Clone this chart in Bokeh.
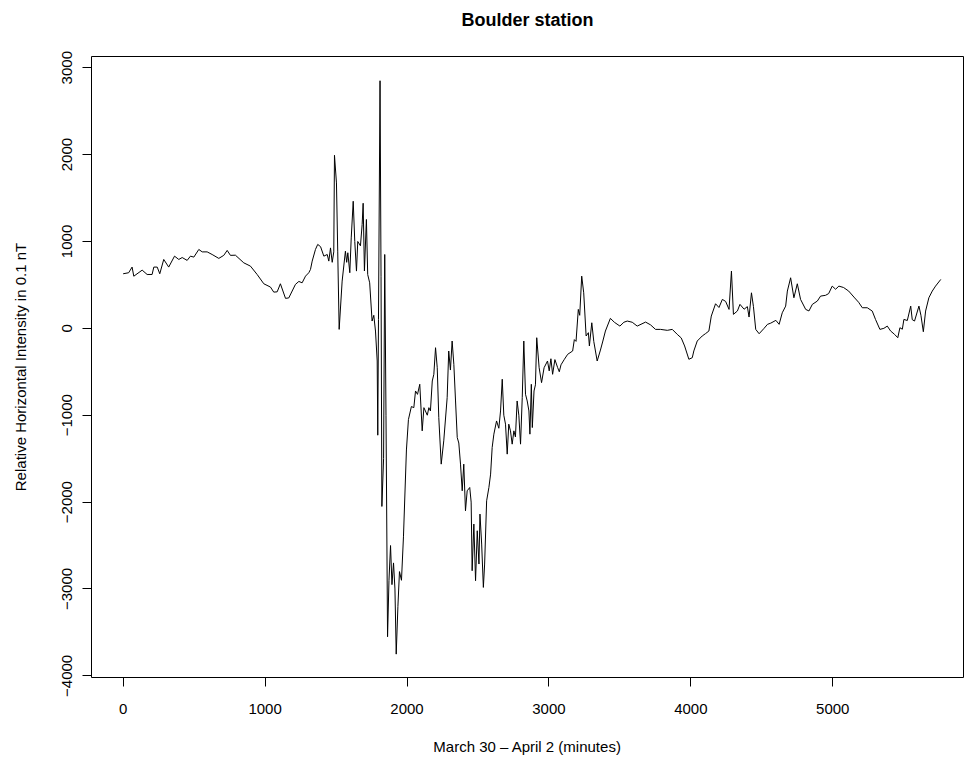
from bokeh.plotting import figure
from bokeh.models import FixedTicker, Range1d, Title
from bokeh.embed import file_html
from bokeh.resources import INLINE

# minutes since March 30 00:00
minutes = [0, 39, 63, 75, 134, 169, 204, 216, 240, 258, 286, 321, 362, 392, 416, 451, 474, 498,
           533, 557, 592, 627, 674, 709, 733, 756, 791, 850, 897, 944, 991, 1038, 1061, 1085, 1108,
           1144, 1167, 1214, 1238, 1261, 1285, 1308, 1320, 1332, 1355, 1371, 1391, 1414, 1438, 1449,
           1461, 1473, 1484, 1489, 1503, 1512, 1522, 1543, 1566, 1575, 1583, 1597, 1607, 1621, 1632,
           1644, 1653, 1672, 1684, 1691, 1700, 1714, 1723, 1737, 1754, 1766, 1778, 1790, 1794, 1799,
           1810, 1817, 1823, 1835, 1843, 1852, 1863, 1873, 1884, 1894, 1905, 1915, 1924, 1936, 1947,
           1961, 1975, 1996, 2010, 2031, 2048, 2060, 2074, 2090, 2107, 2119, 2143, 2154, 2165, 2178,
           2189, 2201, 2213, 2224, 2241, 2259, 2283, 2294, 2306, 2318, 2330, 2342, 2354, 2365, 2377,
           2389, 2400, 2412, 2424, 2442, 2452, 2459, 2471, 2483, 2495, 2507, 2514, 2526, 2538, 2547,
           2561, 2577, 2589, 2600, 2612, 2631, 2647, 2659, 2671, 2682, 2694, 2706, 2717, 2729, 2741,
           2753, 2764, 2776, 2788, 2800, 2812, 2823, 2835, 2847, 2859, 2866, 2876, 2883, 2895, 2905,
           2914, 2931, 2948, 2966, 2990, 3002, 3014, 3026, 3042, 3061, 3073, 3085, 3109, 3132, 3167,
           3179, 3191, 3207, 3217, 3231, 3245, 3262, 3278, 3285, 3302, 3316, 3340, 3363, 3380, 3398,
           3433, 3461, 3500, 3528, 3552, 3587, 3622, 3681, 3716, 3751, 3786, 3834, 3869, 3904, 3932,
           3956, 3986, 4010, 4021, 4045, 4080, 4104, 4127, 4144, 4174, 4198, 4222, 4245, 4269, 4286,
           4300, 4328, 4346, 4375, 4398, 4410, 4427, 4441, 4457, 4481, 4516, 4540, 4563, 4599, 4622,
           4644, 4668, 4680, 4703, 4726, 4750, 4773, 4809, 4832, 4856, 4891, 4914, 4949, 4971, 4996,
           5020, 5043, 5076, 5112, 5149, 5182, 5208, 5243, 5278, 5301, 5332, 5360, 5384, 5407, 5435,
           5458, 5473, 5490, 5501, 5525, 5549, 5560, 5576, 5607, 5621, 5638, 5654, 5677, 5701, 5724,
           5761]

# relative horizontal intensity (0.1 nT)
intensity = [628, 640, 705, 600, 670, 620, 620, 705, 705, 628, 793, 705, 831, 793, 815, 782, 831, 820,
             908, 880, 880, 850, 805, 840, 897, 840, 842, 754, 716, 620, 513, 475, 417, 420, 513,
             345, 350, 506, 540, 524, 601, 640, 678, 774, 908, 966, 940, 831, 850, 774,
             926, 760, 880, 1992, 1674, 880, -12, 544, 888, 760, 870, 640, 1041, 1463, 1000,
             659, 1000, 950, 1195, 1440, 660, 1253, 620, 524, 84, 150, -31, -376, -1230, 100,
             2850, 600, -2050, -1500, 850, -1000, -3550, -2900, -2500, -2950, -2700, -3000, -3750, -3200, -2800,
             -2900, -2400, -1400, -1050, -900, -913, -721, -760, -644, -1180, -913, -1000, -913, -951, -606,
             -529, -223, -453, -1028, -1563, -1295, -798, -261, -480, -146, -414, -836, -1257, -1320, -1563,
             -1870, -1563, -2100, -1870, -1832, -2000, -2790, -2253, -2905, -2330, -2713, -2138, -2483, -2982, -2713,
             -1985, -1832, -1678, -1372, -1218, -1066, -1150, -951, -586, -1000, -1103, -1448, -1103, -1180, -1333,
             -1180, -1250, -836, -1000, -1333, -798, -146, -759, -836, -951, -1218, -644, -1142, -721, -650,
             -108, -453, -625, -453, -376, -490, -350, -529, -360, -450, -500, -420, -356, -299, -261,
             -130, -150, 218, 150, 601, 409, -88, -50, -203, 64, -150, -376, -250, -146, -31,
             115, 70, 26, 70, 84, 70, 26, 72, 40, -12, -12, -23, -12, -69, -110,
             -203, -356, -338, -260, -146, -88, -60, -31, 141, 283, 240, 333, 310, 218, 659,
             161, 200, 276, 220, 250, 130, 409, 250, -12, -62, 0, 46, 60, 92, 46,
             179, 256, 429, 582, 352, 513, 333, 218, 200, 276, 314, 371, 380, 400, 486,
             450, 486, 470, 429, 360, 300, 237, 237, 199, 103, -12, 0, 26, -30, -69,
             -108, 7, -10, 103, 90, 256, 100, 84, 256, 150, -39, 199, 352, 429, 486,
             563]

x_ticks = [0, 1000, 2000, 3000, 4000, 5000]
y_ticks = [-4000, -3000, -2000, -1000, 0, 1000, 2000, 3000]

FONT = "Liberation Sans"

p = figure(width=964, height=760, output_backend="svg", toolbar_location=None,
           x_range=Range1d(-223, 5921), y_range=Range1d(-4019, 3129),
           min_border_left=91, min_border_right=1, min_border_top=55, min_border_bottom=83)

p.line(minutes, intensity, line_color="black", line_width=1)

p.grid.visible = False
p.outline_line_color = "black"
p.outline_line_width = 1
p.background_fill_color = "white"
p.border_fill_color = "white"

# spacer panel between frame and the title, then the title itself
p.add_layout(Title(text=" ", text_font=FONT, text_font_size="16px", standoff=0), "above")
p.add_layout(Title(text="Boulder station", align="center", text_font=FONT,
                   text_font_size="18px", text_font_style="bold", text_color="black",
                   standoff=15), "above")

for ax, ticks, label in ((p.xaxis[0], x_ticks, "March 30 \u2013 April 2 (minutes)"),
                         (p.yaxis[0], y_ticks, "Relative Horizontal Intensity in 0.1 nT")):
    ax.ticker = FixedTicker(ticks=ticks, minor_ticks=[])
    ax.bounds = (ticks[0], ticks[-1])
    ax.axis_label = label
    ax.axis_label_text_font = FONT
    ax.axis_label_text_font_size = "15px"
    ax.axis_label_text_font_style = "normal"
    ax.axis_label_text_color = "black"
    ax.major_label_text_font = FONT
    ax.major_label_text_font_size = "15px"
    ax.major_label_text_color = "black"
    ax.major_tick_in = 0
    ax.major_tick_out = 9
    ax.major_tick_line_color = "black"
    ax.minor_tick_line_color = None
    ax.axis_line_color = "black"

p.xaxis[0].major_label_standoff = 17
p.xaxis[0].axis_label_standoff = 21
p.yaxis[0].major_label_orientation = "vertical"
p.yaxis[0].major_label_standoff = 10
p.yaxis[0].axis_label_standoff = 31

open("out.html", "w").write(file_html(p, INLINE))
